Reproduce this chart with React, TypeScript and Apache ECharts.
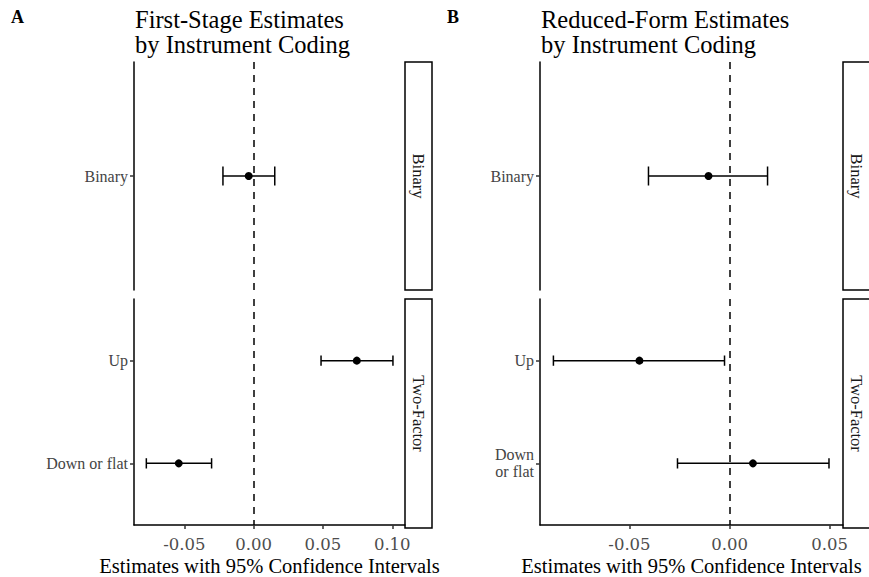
import React, { useEffect, useRef } from "react";
import * as echarts from "echarts";

// ---- data ----
const FACETS = ["Binary", "Two-Factor"];
const ROW_FACET = [0, 1, 1]; // which facet each row belongs to
const ROW_POS = [1, 1, 2]; // category position inside its facet
const LABELS_A = ["Binary", "Up", "Down or flat"];
const LABELS_B = ["Binary", "Up", "Down\nor flat"];
const EST_A = [-0.0036, 0.0744, -0.0541];
const LOW_A = [-0.0222, 0.0486, -0.0775];
const HIGH_A = [0.0152, 0.1005, -0.0304];
const EST_B = [-0.0105, -0.045, 0.0117];
const LOW_B = [-0.0405, -0.088, -0.026];
const HIGH_B = [0.019, -0.0025, 0.0497];
const TICKS_A = [-0.05, 0, 0.05, 0.1];
const TICKS_B = [-0.05, 0, 0.05];
const RANGE_A = [-0.0864, 0.1092];
const RANGE_B = [-0.0947, 0.0567];
const TITLE_A = "First-Stage Estimates\nby Instrument Coding";
const TITLE_B = "Reduced-Form Estimates\nby Instrument Coding";
const X_TITLE = "Estimates with 95% Confidence Intervals";

const SERIF = "Liberation Serif";
const NUM_FONT = "DejaVu Serif";

export default function App() {
  const ref = useRef<HTMLDivElement>(null);
  useEffect(() => {
    if (!ref.current) return;
    const chart = echarts.init(ref.current, null, { renderer: "svg" });

    const panels = [
      { labels: LABELS_A, est: EST_A, low: LOW_A, high: HIGH_A, ticks: TICKS_A, range: RANGE_A, left: 134, width: 271 },
      { labels: LABELS_B, est: EST_B, low: LOW_B, high: HIGH_B, ticks: TICKS_B, range: RANGE_B, left: 540, width: 303 },
    ];
    const facetGeom = [
      { top: 62, height: 228, max: 1.6 },
      { top: 299, height: 229, max: 2.6 },
    ];

    const grid: any[] = [];
    const xAxis: any[] = [];
    const yAxis: any[] = [];
    const series: any[] = [];
    const graphic: any[] = [];

    panels.forEach((p, pi) => {
      facetGeom.forEach((f, fi) => {
        const gi = grid.length;
        const isBottom = fi === 1;
        grid.push({ left: p.left, top: f.top, width: p.width, height: f.height, containLabel: false });
        const rows = p.labels.map((_, i) => i).filter((i) => ROW_FACET[i] === fi);
        const posLabels: Record<number, string> = {};
        rows.forEach((i) => (posLabels[ROW_POS[i]] = p.labels[i]));
        xAxis.push({
          gridIndex: gi,
          type: "value",
          min: p.range[0],
          max: p.range[1],
          splitLine: { show: false },
          axisLine: { show: isBottom, onZero: false, lineStyle: { color: "#000", width: 1.5 } },
          axisTick: { show: isBottom, customValues: p.ticks, length: 4, lineStyle: { color: "#333", width: 1.5 } },
          axisLabel: {
            show: isBottom,
            customValues: p.ticks,
            formatter: (v: number) => v.toFixed(2),
            fontFamily: NUM_FONT,
            fontSize: 16.5,
            color: "#4D4D4D",
            margin: 11,
          },
          name: isBottom ? X_TITLE : "",
          nameLocation: "middle",
          nameGap: 30,
          nameTextStyle: { fontFamily: SERIF, fontSize: 20.5, color: "#000" },
        });
        yAxis.push({
          gridIndex: gi,
          type: "value",
          inverse: true,
          min: 0.4,
          max: f.max,
          splitLine: { show: false },
          axisLine: { show: true, onZero: false, lineStyle: { color: "#000", width: 1.5 } },
          axisTick: { show: true, customValues: Object.keys(posLabels).map(Number), length: 4, lineStyle: { color: "#333", width: 1.5 } },
          axisLabel: {
            customValues: Object.keys(posLabels).map(Number),
            formatter: (v: number) => posLabels[Math.round(v)] || "",
            fontFamily: SERIF,
            fontSize: 16,
            lineHeight: 17,
            color: "#444",
            margin: 6,
            align: "right",
          },
        });
        series.push({
          type: "custom",
          xAxisIndex: gi,
          yAxisIndex: gi,
          data: rows.map((i) => [p.low[i], p.high[i], ROW_POS[i]]),
          encode: { x: [0, 1], y: 2 },
          z: 3,
          renderItem: (params: any, api: any) => {
            const lo = api.value(0);
            const hi = api.value(1);
            const y = api.value(2);
            const a = api.coord([lo, y]);
            const b = api.coord([hi, y]);
            const la = api.coord([lo, y - 0.05]);
            const lb = api.coord([lo, y + 0.05]);
            const ha = api.coord([hi, y - 0.05]);
            const hb = api.coord([hi, y + 0.05]);
            const st = { stroke: "#000", lineWidth: 1.5 };
            return {
              type: "group",
              children: [
                { type: "line", shape: { x1: a[0], y1: a[1], x2: b[0], y2: b[1] }, style: st },
                { type: "line", shape: { x1: la[0], y1: la[1], x2: lb[0], y2: lb[1] }, style: st },
                { type: "line", shape: { x1: ha[0], y1: ha[1], x2: hb[0], y2: hb[1] }, style: st },
              ],
            };
          },
        });
        series.push({
          type: "scatter",
          xAxisIndex: gi,
          yAxisIndex: gi,
          data: rows.map((i) => [p.est[i], ROW_POS[i]]),
          symbolSize: 8,
          itemStyle: { color: "#000", opacity: 1 },
          z: 4,
          markLine: {
            silent: true,
            symbol: ["none", "none"],
            label: { show: false },
            lineStyle: { type: [7, 6], color: "#000", width: 1.5 },
            data: [{ xAxis: 0 }],
            z: 2,
          },
        });
        // strip
        const sx = p.left + p.width;
        graphic.push({
          type: "rect",
          shape: { x: sx, y: f.top, width: 27, height: f.height },
          style: { fill: "#fff", stroke: "#000", lineWidth: 1.5 },
        });
        graphic.push({
          type: "text",
          x: sx + 13.5,
          y: f.top + f.height / 2,
          rotation: -Math.PI / 2,
          style: {
            text: FACETS[fi],
            fontFamily: SERIF,
            fontSize: 16.5,
            fill: "#1A1A1A",
            align: "center",
            verticalAlign: "middle",
          },
        });
      });
    });

    // panel tags and titles
    graphic.push({ type: "text", x: 11, y: 8, style: { text: "A", fontFamily: SERIF, fontWeight: "bold", fontSize: 18, fill: "#000" } });
    graphic.push({ type: "text", x: 447, y: 8, style: { text: "B", fontFamily: SERIF, fontWeight: "bold", fontSize: 18, fill: "#000" } });
    graphic.push({ type: "text", x: 135, y: 7, style: { text: TITLE_A, fontFamily: SERIF, fontSize: 24.5, lineHeight: 25, fill: "#000" } });
    graphic.push({ type: "text", x: 541, y: 7, style: { text: TITLE_B, fontFamily: SERIF, fontSize: 24.5, lineHeight: 25, fill: "#000" } });

    chart.setOption({
      animation: false,
      backgroundColor: "#fff",
      grid,
      xAxis,
      yAxis,
      series,
      graphic,
    });
    return () => chart.dispose();
  }, []);
  return <div ref={ref} style={{ position: "absolute", left: 0, top: 0, width: 869, height: 577 }} />;
}
